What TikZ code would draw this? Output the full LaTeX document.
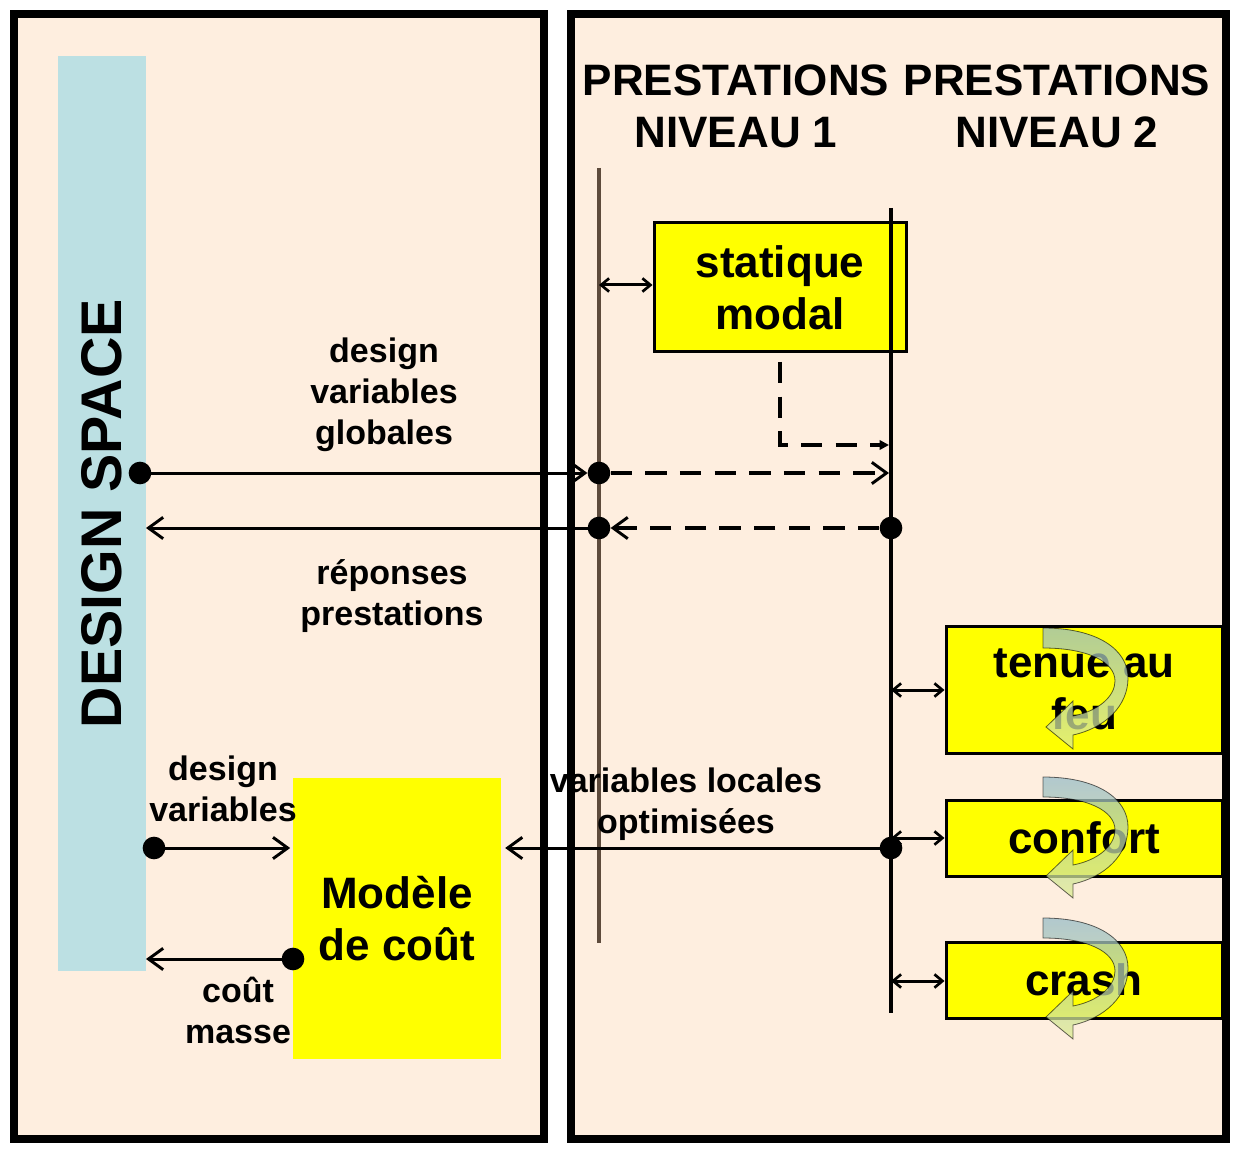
\documentclass[tikz,border=0pt]{standalone}
\usepackage{fontspec}
\setmainfont{Liberation Sans}
\usetikzlibrary{arrows.meta}
\definecolor{peach}{HTML}{FEEEDF}
\definecolor{dsblue}{HTML}{BCE0E3}
\definecolor{yfill}{HTML}{FFFF00}
\definecolor{brownline}{HTML}{5E4B3C}
\definecolor{arrtop}{HTML}{98BCC8}
\definecolor{arrbot}{HTML}{DDEC90}
\begin{document}
\begin{tikzpicture}[x=0.75pt,y=-0.75pt,
 panel/.style={draw=black,line width=6pt,fill=peach},
 yellowbox/.style={draw=black,line width=2.25pt,fill=yfill,inner sep=0pt,align=center,font=\fontsize{33}{39}\selectfont\bfseries},
 header/.style={align=center,font=\fontsize{33}{39}\selectfont\bfseries},
 lbl/.style={align=center,font=\fontsize{25.5}{30.75}\selectfont\bfseries},
 dot/.style={circle,fill=black,inner sep=0pt,minimum size=17pt},
 conn/.style={line width=2.25pt},
 tipr/.style={-{Straight Barb[length=11pt,width=16pt,line width=2.2pt]}},
 dtip/.style={{Straight Barb[length=6pt,width=10pt,line width=2pt]}-{Straight Barb[length=6pt,width=10pt,line width=2pt]}},
 dashconn/.style={line width=2.4pt,dash pattern=on 16pt off 10pt},
 curvarrow/.style={top color=arrtop,bottom color=arrbot,fill opacity=0.75,draw=black,draw opacity=0.6,line width=0.6pt},
 curv/.pic={
   \path[curvarrow] (0,0) .. controls (55,0) and (85,22) .. (85,50)
     .. controls (85,78) and (62,100) .. (30,107) -- (30,121) -- (3,99) -- (30,73) -- (30,88)
     .. controls (56,83) and (72,68) .. (72,53)
     .. controls (72,34) and (45,20) .. (0,20) -- cycle;
 }
]
\useasboundingbox (0,0) rectangle (1237,1151);
% panels
\draw[panel] (14,14) rectangle (544,1139);
\draw[panel] (571,14) rectangle (1226,1139);
% design space bar
\node[rotate=90,fill=dsblue,minimum width=686pt,minimum height=66pt,inner sep=0pt,
      font=\fontsize{43}{50}\selectfont\bfseries] (bar) at (102,513.5) {DESIGN SPACE};
% headers
\node[header] (h1) at (736,106) {PRESTATIONS\\NIVEAU 1};
\node[header] (h2) at (1057,106) {PRESTATIONS\\NIVEAU 2};
% boxes
\node[yellowbox,minimum width=189pt,minimum height=96.75pt] (stat) at (780,287.5) {statique\\modal};
\node[yellowbox,minimum width=207pt,minimum height=95.25pt] (tenue) at (1084,689.5) {tenue au\\feu};
\node[yellowbox,minimum width=207pt,minimum height=57pt] (confort) at (1084,838) {confort};
\node[yellowbox,minimum width=207pt,minimum height=57pt] (crash) at (1084,980) {crash};
\node[yellowbox,draw=none,minimum width=156pt,minimum height=210.75pt] (modele) at (397,918.5) {Modèle\\de coût};
% vertical lines
\coordinate (l1t) at (599,168);
\coordinate (l1b) at (599,943);
\coordinate (l2t) at (891,208);
\coordinate (l2b) at (891,1013);
\draw[brownline,line width=2.4pt] (l1t) -- (l1b);
\draw[black,line width=2.6pt] (l2t) -- (l2b);
% dots
\node[dot] (d1) at (140,473) {};
\node[dot] (d2) at (599,473) {};
\node[dot] (d3) at (599,528) {};
\node[dot] (d4) at (891,528) {};
\node[dot] (d5) at (154,848) {};
\node[dot] (d6) at (293,959) {};
\node[dot] (d7) at (891,848) {};
% coordinates
\coordinate (s1) at (599,285);
\coordinate (sd) at (780,362);
\coordinate (c445) at (889,445);
\coordinate (c473) at (889,473);
\coordinate (b528) at (146,528);
\coordinate (b959) at (146,959);
\coordinate (t1) at (891,690);
\coordinate (t2) at (891,838);
\coordinate (t3) at (891,981);
% connectors
\draw[conn,dtip] (s1) -- (s1 -| stat.west);
\draw[dashconn,-{Triangle[length=7pt,width=7pt]}] (sd) |- (c445);
\draw[conn,tipr,draw=black] (d1.center) -- (d2.west);
\draw[dashconn,tipr] (d2.east) -- (c473);
\draw[dashconn,tipr] (d4.west) -- (d3.east);
\draw[conn,tipr] (d3.center) -- (b528);
\draw[conn,dtip] (t1) -- (t1 -| tenue.west);
\draw[conn,dtip] (t2) -- (t2 -| confort.west);
\draw[conn,dtip] (t3) -- (t3 -| crash.west);
\draw[conn,tipr] (d5.center) -- ([xshift=-1pt]d5 -| modele.west);
\draw[conn,tipr] (d6.center) -- (b959);
\draw[conn,tipr] (d7.center) -- ([xshift=2pt]d7 -| modele.east);
% labels
\node[lbl] (lg) at (384,395) {design\\variables\\globales};
\node[lbl] (lr) at (392,596) {réponses\\prestations};
\node[lbl] (ldv) at (223,788.5) {design\\variables};
\node[lbl] (lcm) at (238,1010) {coût\\masse};
\node[lbl] (lvl) at (686,804) {variables locales\\optimisées};
% curved arrows
\pic at (1043,628) {curv};
\pic at (1043,777) {curv};
\pic at (1043,918) {curv};
\end{tikzpicture}
\end{document}
